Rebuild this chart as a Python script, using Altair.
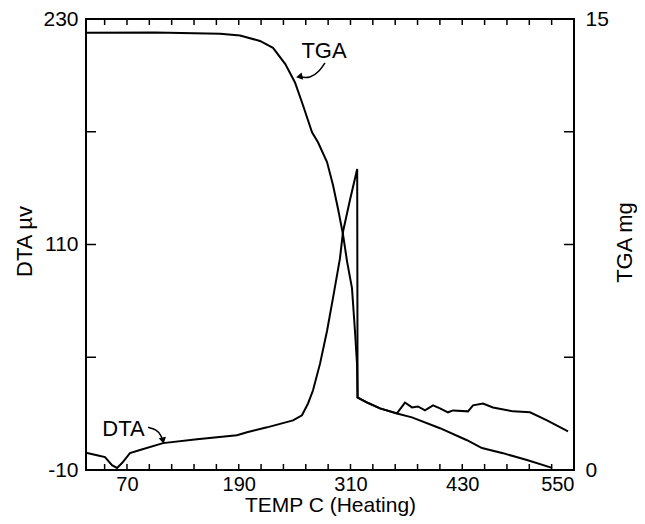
import altair as alt
import pandas as pd

# ---- data ----
temp_dta = [26, 37.8, 46.4, 53.9, 59.3, 64.7, 73.2, 84.0, 108.7, 145.2, 188.1, 198.9,
            220.4, 248.3, 257.9, 264.4, 269.7, 277.3, 284.8, 291.2, 298.7, 302.0,
            309.5, 317.2, 317.6, 327.7, 341.7, 359.9, 368.5, 376.0, 382.5, 390.0,
            398.6, 406.1, 414.7, 420.1, 436.2, 441.6, 452.3, 463.0, 484.5, 502.8,
            521.0, 543.6]
dta_uv = [-0.85, -2.1, -3.1, -7.4, -8.9, -6.3, -1.0, 0.6, 4.3, 6.4, 8.5, 10.1,
          12.7, 16.4, 19.1, 25.4, 32.3, 46.6, 64.0, 81.5, 102.6, 116.9,
          133.8, 150.2, 28.6, 25.9, 22.8, 20.1, 25.9, 23.3, 23.8, 21.7,
          24.4, 22.8, 20.7, 21.7, 21.2, 24.4, 25.4, 23.3, 21.2, 20.7,
          16.4, 10.6]

temp_tga = [26, 100, 170, 191.4, 212.8, 226.8, 240.0, 250.4, 259.0, 268.7, 275.1,
            284.8, 291.2, 296.6, 302.0, 306.3, 311.6, 314.8, 317.0, 317.6, 327.7,
            341.7, 359.9, 376.0, 406.1, 435.1, 451.2, 473.8, 499.5, 526.4]
tga_mg = [14.54, 14.55, 14.51, 14.45, 14.27, 14.04, 13.5, 12.89, 12.13, 11.23, 10.90,
          10.24, 9.48, 8.69, 7.83, 6.94, 6.05, 4.63, 3.54, 2.41, 2.25,
          2.05, 1.88, 1.75, 1.39, 0.99, 0.73, 0.56, 0.33, 0.07]

x_tick_labels = [70, 190, 310, 430, 550]
x_minor_ticks = [46, 70, 94, 118, 142, 166, 190, 214, 238, 262, 286, 310, 334,
                 358, 382, 406, 430, 454, 478, 502, 526]
dta_axis_labels = [-10, 110, 230]
dta_inner_ticks = [50, 110, 170]
tga_axis_labels = [0, 15]
tga_inner_ticks = [3.75, 7.5, 11.25]

# annotations (positions in data units: TEMP, DTA)
note_text = ["TGA", "DTA"]
note_temp = [281.6, 66.3]
note_dta = [213.0, 11.7]
arrow_group = ["TGA", "TGA", "TGA", "TGA", "DTA", "DTA", "DTA", "DTA"]
arrow_temp = [282.6, 277.3, 266.5, 254.7, 92.6, 101.2, 106.5, 108.7]
arrow_dta = [206.7, 202.5, 198.3, 199.3, 12.7, 11.7, 8.5, 5.6]
head_temp = [255.0, 108.7]
head_dta = [199.3, 5.6]
head_shape = ["triangle-left", "triangle-down"]

W, H = 488, 451
FONT = "Liberation Sans"

xs = alt.Scale(domain=[26, 550], nice=False, zero=False)
ys_dta = alt.Scale(domain=[-10, 230], nice=False, zero=False)
ys_tga = alt.Scale(domain=[0, 15], nice=False, zero=False)

dta_df = pd.DataFrame({"T": temp_dta, "v": dta_uv, "i": list(range(len(temp_dta)))})
tga_df = pd.DataFrame({"T": temp_tga, "m": tga_mg, "i": list(range(len(temp_tga)))})
minor_df = pd.DataFrame({"T": x_minor_ticks})
dta_tick_df = pd.DataFrame({"v": dta_inner_ticks})
tga_tick_df = pd.DataFrame({"m": tga_inner_ticks})
note_df = pd.DataFrame({"T": note_temp, "v": note_dta, "label": note_text})
arrow_df = pd.DataFrame({"T": arrow_temp, "v": arrow_dta, "g": arrow_group,
                         "i": list(range(len(arrow_temp)))})
head_df = pd.DataFrame({"T": head_temp, "v": head_dta, "shape": head_shape})

x_axis = alt.Axis(values=x_tick_labels, title="TEMP C (Heating)", tickSize=0,
                  domain=False, grid=False, labelFontSize=20, labelFont=FONT,
                  labelPadding=4, labelColor="black", titleFontSize=21, titleFont=FONT,
                  titleFontWeight="normal", titleColor="black", titleY=41.5,
                  titleBaseline="alphabetic", labelExpr="'' + datum.value")

dta_axis = alt.Axis(values=dta_axis_labels, title="DTA µv", orient="left", tickSize=0,
                    domain=False, grid=False, labelFontSize=21, labelFont=FONT,
                    labelPadding=8, labelColor="black", titleFontSize=22, titleFont=FONT,
                    titleFontWeight="normal", titleColor="black", titleAngle=270,
                    titleX=-55, titleY=222, titleBaseline="alphabetic", titleAlign="center",
                    labelExpr="'' + datum.value")

tga_axis = alt.Axis(values=tga_axis_labels, title="TGA mg", orient="right", tickSize=0,
                    domain=False, grid=False, labelFontSize=21, labelFont=FONT,
                    labelPadding=11, labelColor="black", titleFontSize=22, titleFont=FONT,
                    titleFontWeight="normal", titleColor="black", titleAngle=270,
                    titleX=57, titleY=223, titleBaseline="alphabetic", titleAlign="center",
                    labelExpr="'' + datum.value")

xenc = alt.X("T:Q", scale=xs, axis=x_axis)

dta_line = alt.Chart(dta_df).mark_line(color="black", strokeWidth=2).encode(
    x=xenc,
    y=alt.Y("v:Q", scale=ys_dta, axis=dta_axis),
    order="i:Q",
)

tga_line = alt.Chart(tga_df).mark_line(color="black", strokeWidth=2).encode(
    x=xenc,
    y=alt.Y("m:Q", scale=ys_tga, axis=tga_axis),
    order="i:Q",
)

bottom_ticks = alt.Chart(minor_df).mark_rule(color="black", strokeWidth=1.5).encode(
    x=xenc,
    y=alt.value(H), y2=alt.value(H - 6),
)
top_ticks = alt.Chart(minor_df).mark_rule(color="black", strokeWidth=1.5).encode(
    x=xenc,
    y=alt.value(0), y2=alt.value(6),
)
left_ticks = alt.Chart(dta_tick_df).mark_rule(color="black", strokeWidth=1.5).encode(
    y=alt.Y("v:Q", scale=ys_dta, axis=None),
    x=alt.value(0), x2=alt.value(10),
)
right_ticks = alt.Chart(tga_tick_df).mark_rule(color="black", strokeWidth=1.5).encode(
    y=alt.Y("m:Q", scale=ys_tga, axis=None),
    x=alt.value(W), x2=alt.value(W - 10),
)

notes = alt.Chart(note_df).mark_text(fontSize=22, font=FONT, align="center",
                                     baseline="middle", color="black").encode(
    x=xenc,
    y=alt.Y("v:Q", scale=ys_dta, axis=None),
    text="label:N",
)
arrows = alt.Chart(arrow_df).mark_line(color="black", strokeWidth=1.5,
                                       interpolate="basis").encode(
    x=xenc,
    y=alt.Y("v:Q", scale=ys_dta, axis=None),
    detail="g:N",
    order="i:Q",
)
heads = alt.Chart(head_df).mark_point(filled=True, size=55, color="black",
                                      opacity=1, angle=348).encode(
    x=xenc,
    y=alt.Y("v:Q", scale=ys_dta, axis=None),
    shape=alt.Shape("shape:N", scale=None, legend=None),
)

chart = alt.layer(
    dta_line, tga_line, bottom_ticks, top_ticks, left_ticks, right_ticks,
    notes, arrows, heads,
).resolve_scale(y="independent").resolve_axis(y="independent").properties(
    width=W, height=H,
    autosize=alt.AutoSizeParams(type="none"),
    padding={"left": 78, "top": 11, "right": 63, "bottom": 46},
    background="white",
).configure_view(stroke="black", strokeWidth=2)

chart.save("out.html", embed_options={"renderer": "svg", "actions": False})
